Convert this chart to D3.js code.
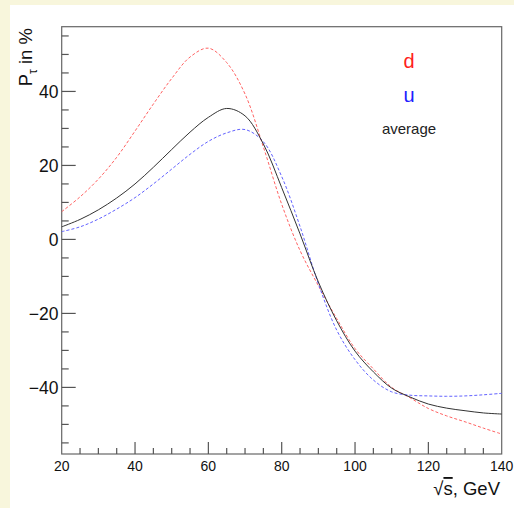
<!DOCTYPE html>
<html>
<head>
<meta charset="utf-8">
<script src="https://cdn.jsdelivr.net/npm/d3@7"></script>
<style>
  body { margin:0; background:#f8f6dc; }
  svg { display:block; }
  text { font-family: "Liberation Sans", Arial, sans-serif; }
</style>
</head>
<body>
<script>
// sqrt(s) in GeV
var energy = [20,25,30,35,40,45,50,55,60,65,70,75,80,85,90,95,100,105,110,115,120,125,130,135,140];
// P_tau in %
var polD   = [7.5,11.5,16.3,22.2,29.3,36.6,43.5,49.3,51.7,47.8,39.3,25,9.5,-3,-12.5,-21.4,-29.5,-35,-40,-42.8,-45.7,-47.7,-49.3,-51,-52.6];
var polU   = [2.1,3.4,5.5,8.2,11.3,15,19,23,26.5,28.8,29.7,26.4,17,3.5,-12,-24.5,-32.5,-38,-41.2,-42.1,-42.3,-42.4,-42.3,-42,-41.6];
var polAvg = [3.4,5.4,8,11.2,15,19.5,24.3,29,33,35.4,33.4,25.8,14,1.5,-11.5,-22,-30.2,-35.8,-40.2,-42.6,-44.5,-45.6,-46.3,-46.9,-47.2];

var xTicks = [20,40,60,80,100,120,140];
var yTicks = [-40,-20,0,20,40];
var legendNames = ["d","u","average"];
var legendColors = ["#ff2020","#2020ff","#222"];

var width = 514, height = 508;
var svg = d3.select("body").append("svg").attr("width",width).attr("height",height);

// white pad
svg.append("rect").attr("x",10).attr("y",5).attr("width",width-10).attr("height",height-5).attr("fill","#fff");

var x = d3.scaleLinear().domain([20,140]).range([61.7,501.7]);
var y = d3.scaleLinear().domain([-58,57.5]).range([454,26.7]);

// frame
svg.append("rect").attr("x",x(20)).attr("y",y(57.5)).attr("width",x(140)-x(20)).attr("height",y(-58)-y(57.5))
  .attr("fill","none").attr("stroke","#666").attr("stroke-width",1.2);

// y ticks (inside, pointing right)
var yMinor = d3.range(-55,56,5);
svg.append("g").selectAll("line").data(yMinor).enter().append("line")
  .attr("x1",x(20)).attr("x2",function(d){ return x(20) + (d%20==0 ? 14 : 7); })
  .attr("y1",function(d){ return y(d); }).attr("y2",function(d){ return y(d); })
  .attr("stroke","#555").attr("stroke-width",1.2);
svg.append("g").selectAll("text").data(yTicks).enter().append("text")
  .attr("x",58.5).attr("y",function(d){ return y(d); }).attr("dy","0.36em")
  .attr("text-anchor","end").attr("font-size",17.5).attr("fill","#111")
  .text(function(d){ return d<0 ? "\u2212"+Math.abs(d) : d; });

// x ticks (inside, pointing up)
var xMinor = d3.range(25,140,5);
svg.append("g").selectAll("line").data(xMinor).enter().append("line")
  .attr("x1",function(d){ return x(d); }).attr("x2",function(d){ return x(d); })
  .attr("y1",y(-58)).attr("y2",function(d){ return y(-58) - (d%20==0 ? 12 : 6); })
  .attr("stroke","#555").attr("stroke-width",1.2);
svg.append("g").selectAll("text").data(xTicks).enter().append("text")
  .attr("x",function(d){ return x(d); }).attr("y",470.5)
  .attr("text-anchor","middle").attr("font-size",14).attr("fill","#111")
  .text(function(d){ return d; });

// axis titles
var xt = svg.append("text").attr("x",500).attr("y",495).attr("text-anchor","end").attr("font-size",18.5).attr("fill","#111");
xt.append("tspan").text("\u221A");
xt.append("tspan").attr("text-decoration","overline").text("s");
xt.append("tspan").text(", GeV");

var yt = svg.append("text").attr("transform","translate(32,28) rotate(-90)").attr("text-anchor","end")
  .attr("font-size",18.5).attr("fill","#111");
yt.append("tspan").text("P");
yt.append("tspan").attr("font-size",12).attr("dy",5).text("\u03C4");
yt.append("tspan").attr("dy",-5).text(" in %");

// curves
var line = d3.line()
  .x(function(d){ return x(d[0]); })
  .y(function(d){ return y(d[1]); })
  .curve(d3.curveCatmullRom.alpha(0.5));

function pairs(vals){ return energy.map(function(e,i){ return [e, vals[i]]; }); }

svg.append("path").attr("d",line(pairs(polD))).attr("fill","none")
  .attr("stroke","#ff6262").attr("stroke-width",1).attr("stroke-dasharray","3,2");
svg.append("path").attr("d",line(pairs(polU))).attr("fill","none")
  .attr("stroke","#6262ff").attr("stroke-width",1).attr("stroke-dasharray","3,2");
svg.append("path").attr("d",line(pairs(polAvg))).attr("fill","none")
  .attr("stroke","#333").attr("stroke-width",1);

// labels
var legendY = [68,101.5,134];
var legendSize = [20,20,15];
svg.append("g").selectAll("text").data(legendNames).enter().append("text")
  .attr("x",409).attr("y",function(d,i){ return legendY[i]; })
  .attr("text-anchor","middle").attr("font-size",function(d,i){ return legendSize[i]; })
  .attr("fill",function(d,i){ return legendColors[i]; })
  .text(function(d){ return d; });
</script>
</body>
</html>
